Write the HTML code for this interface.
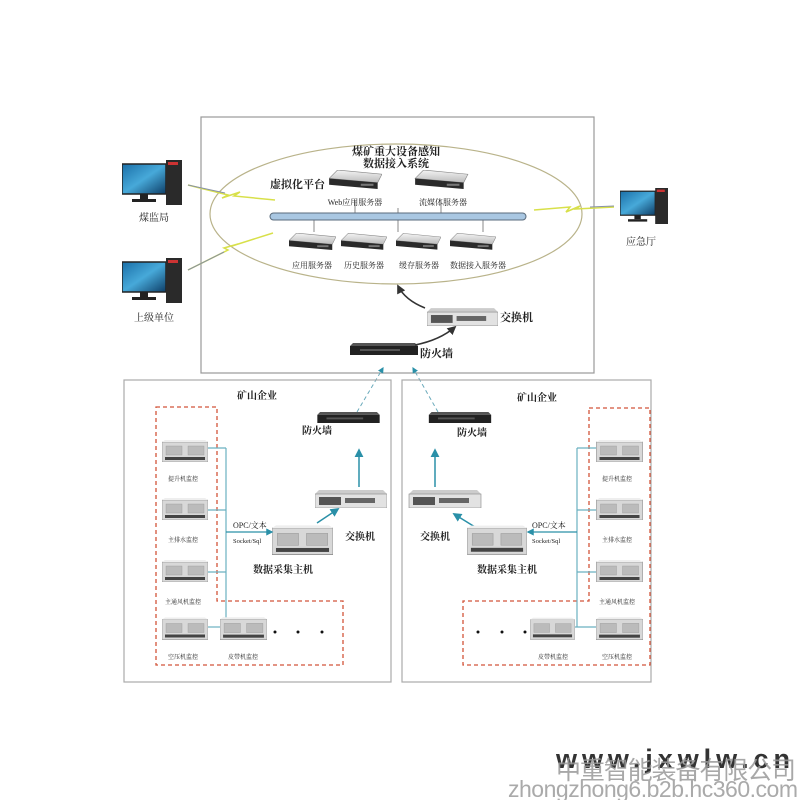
<!DOCTYPE html>
<html><head><meta charset="utf-8"><style>
html,body{margin:0;padding:0;background:#fff;width:800px;height:800px;overflow:hidden}
svg{display:block}
text{font-family:"Liberation Serif","Noto Serif CJK SC",serif;fill:#222}
.b{font-weight:bold}
</style></head><body>
<svg width="800" height="800" viewBox="0 0 800 800">
<defs>
<linearGradient id="srv" x1="0" y1="0" x2="0" y2="1"><stop offset="0" stop-color="#f4f4f4"/><stop offset="1" stop-color="#bbb"/></linearGradient>
<linearGradient id="scr" x1="0" y1="0" x2="1" y2="1"><stop offset="0" stop-color="#1a6fa8"/><stop offset="0.5" stop-color="#47a9d9"/><stop offset="1" stop-color="#0d3d66"/></linearGradient>
<symbol id="rack" viewBox="0 0 50 18"><polygon points="8,0 50,4 46,12 0,8" fill="url(#srv)" stroke="#888" stroke-width="0.6"/><polygon points="0,8 46,12 46,18 0,14" fill="#2a2a2a"/><rect x="30" y="13" width="12" height="2" fill="#777"/></symbol>
<symbol id="ipc" viewBox="0 0 46 22"><rect x="0" y="2" width="46" height="20" fill="#d8d8d8" stroke="#888" stroke-width="0.6"/><polygon points="3,0 43,0 46,2 0,2" fill="#eee"/><rect x="4" y="6" width="16" height="9" fill="#bbb" stroke="#999" stroke-width="0.4"/><rect x="26" y="6" width="16" height="9" fill="#bbb" stroke="#999" stroke-width="0.4"/><rect x="3" y="17" width="40" height="3" fill="#444"/></symbol>
<symbol id="pc" viewBox="0 0 60 45"><rect x="0" y="4" width="44" height="30" fill="url(#scr)" stroke="#222" stroke-width="1.5"/><rect x="18" y="34" width="8" height="5" fill="#222"/><rect x="10" y="39" width="24" height="3" fill="#222"/><rect x="44" y="0" width="16" height="45" fill="#2a2a2a"/><rect x="46" y="2" width="10" height="3" fill="#c33"/></symbol>
<symbol id="sw" viewBox="0 0 72 18"><polygon points="4,0 68,0 72,4 0,4" fill="#ccc"/><rect x="0" y="4" width="72" height="14" fill="#e2e2e2" stroke="#888" stroke-width="0.6"/><rect x="4" y="7" width="22" height="8" fill="#555"/><rect x="30" y="8" width="30" height="5" fill="#666"/></symbol>
<symbol id="fw" viewBox="0 0 68 12"><polygon points="3,0 65,0 68,3 0,3" fill="#555"/><rect x="0" y="3" width="68" height="9" fill="#222"/><rect x="10" y="6" width="40" height="2" fill="#555"/></symbol>
<marker id="ah" viewBox="0 0 10 10" refX="8" refY="5" markerWidth="6" markerHeight="6" orient="auto"><path d="M0,0 L10,5 L0,10 z" fill="#2a90a8"/></marker>
<marker id="ak" viewBox="0 0 10 10" refX="8" refY="5" markerWidth="6" markerHeight="6" orient="auto"><path d="M0,0 L10,5 L0,10 z" fill="#333"/></marker>
</defs>

<rect x="201" y="117" width="393" height="256" fill="none" stroke="#999" stroke-width="1.2"/>
<ellipse cx="396" cy="214" rx="186" ry="70" fill="none" stroke="#b9b38a" stroke-width="1.2"/>
<text x="396" y="155" font-size="11" text-anchor="middle" class="b">煤矿重大设备感知</text>
<text x="396" y="167" font-size="11" text-anchor="middle" class="b">数据接入系统</text>
<text x="270" y="188" font-size="11" class="b">虚拟化平台</text>
<use href="#rack" x="329" y="170" width="53" height="19"/>
<use href="#rack" x="414" y="170" width="55" height="19"/>
<text x="355" y="205" font-size="8" text-anchor="middle">Web应用服务器</text>
<text x="443" y="205" font-size="8" text-anchor="middle">流媒体服务器</text>
<line x1="355" y1="200" x2="355" y2="214" stroke="#888"/>
<line x1="441" y1="200" x2="441" y2="214" stroke="#888"/>
<line x1="314" y1="220" x2="314" y2="232" stroke="#888"/>
<line x1="398" y1="208" x2="398" y2="232" stroke="#888"/>
<line x1="483" y1="220" x2="483" y2="232" stroke="#888"/>
<rect x="270" y="213" width="256" height="7" rx="3.5" fill="#a9c7e2" stroke="#5a6b7c" stroke-width="1"/>
<use href="#rack" x="289" y="233" width="47" height="17"/>
<use href="#rack" x="341" y="233" width="46" height="17"/>
<use href="#rack" x="396" y="233" width="45" height="17"/>
<use href="#rack" x="450" y="233" width="46" height="17"/>
<text x="312" y="268" font-size="8" text-anchor="middle">应用服务器</text>
<text x="364" y="268" font-size="8" text-anchor="middle">历史服务器</text>
<text x="419" y="268" font-size="8" text-anchor="middle">缓存服务器</text>
<text x="478" y="268" font-size="8" text-anchor="middle">数据接入服务器</text>
<use href="#pc" x="122" y="160" width="60" height="45"/>
<text x="154" y="221" font-size="10" text-anchor="middle">煤监局</text>
<use href="#pc" x="122" y="258" width="60" height="45"/>
<text x="154" y="321" font-size="10" text-anchor="middle">上级单位</text>
<use href="#pc" x="620" y="186" width="48" height="40"/>
<text x="641" y="245" font-size="10" text-anchor="middle">应急厅</text>
<polyline points="188,185 228,195 222,198 240,192 234,196 275,200" fill="none" stroke="#d8e04a" stroke-width="1.5"/>
<line x1="188" y1="185" x2="225" y2="193" stroke="#8891a8" stroke-width="1"/>
<polyline points="188,270 228,250 224,248 238,244 232,246 273,233" fill="none" stroke="#d8e04a" stroke-width="1.5"/>
<line x1="188" y1="270" x2="224" y2="252" stroke="#8891a8" stroke-width="1"/>
<polyline points="534,210 570,207 566,212 580,206 576,209 614,207" fill="none" stroke="#d8e04a" stroke-width="1.5"/>
<line x1="590" y1="207" x2="614" y2="206" stroke="#8891a8" stroke-width="1"/>
<use href="#sw" x="427" y="308" width="71" height="18"/>
<text x="500" y="321" font-size="11" class="b">交换机</text>
<use href="#fw" x="350" y="343" width="68" height="12"/>
<text x="420" y="357" font-size="11" class="b">防火墙</text>
<path d="M425,308 Q405,300 398,286" fill="none" stroke="#333" stroke-width="1.5" marker-end="url(#ak)"/>
<path d="M415,345 Q440,340 455,327" fill="none" stroke="#333" stroke-width="1.5" marker-end="url(#ak)"/>
<line x1="357" y1="412" x2="383" y2="368" stroke="#6aaabb" stroke-width="1" stroke-dasharray="4,3" marker-end="url(#ah)"/>
<line x1="438" y1="412" x2="413" y2="368" stroke="#6aaabb" stroke-width="1" stroke-dasharray="4,3" marker-end="url(#ah)"/>

<rect x="124" y="380" width="267" height="302" fill="none" stroke="#aaa" stroke-width="1.2"/>
<text x="257" y="399" font-size="10" text-anchor="middle" class="b">矿山企业</text>
<path d="M156,407 H217 V601 H343 V665 H156 Z" fill="none" stroke="#d2553a" stroke-width="1.3" stroke-dasharray="4,3"/>
<use href="#fw" x="315" y="412" width="67" height="11"/>
<text x="317" y="434" font-size="10" text-anchor="middle" class="b">防火墙</text>
<line x1="359" y1="487" x2="359" y2="450" stroke="#2a90a8" stroke-width="1.5" marker-end="url(#ah)"/>
<use href="#sw" x="315" y="490" width="72" height="18"/>
<text x="360" y="540" font-size="10" text-anchor="middle" class="b">交换机</text>
<line x1="317" y1="523" x2="338" y2="509" stroke="#2a90a8" stroke-width="1.5" marker-end="url(#ah)"/>
<use href="#ipc" x="272" y="525" width="61" height="30"/>
<text x="283" y="573" font-size="10" text-anchor="middle" class="b">数据采集主机</text>
<text x="233" y="528" font-size="8">OPC/文本</text>
<text x="233" y="543" font-size="6.5">Socket/Sql</text>
<g stroke="#6ab0c0" stroke-width="1.2" fill="none">
<line x1="226" y1="448" x2="226" y2="627"/>
<line x1="208" y1="448" x2="226" y2="448"/>
<line x1="208" y1="510" x2="226" y2="510"/>
<line x1="208" y1="572" x2="226" y2="572"/>
<line x1="208" y1="627" x2="222" y2="627"/>
<line x1="226" y1="532" x2="272" y2="532" stroke="#2a90a8" marker-end="url(#ah)"/>
</g>
<use href="#ipc" x="162" y="440" width="46" height="22"/>
<text x="183" y="481" font-size="6" text-anchor="middle">提升机监控</text>
<use href="#ipc" x="162" y="498" width="46" height="22"/>
<text x="183" y="542" font-size="6" text-anchor="middle">主排水监控</text>
<use href="#ipc" x="162" y="560" width="46" height="22"/>
<text x="183" y="604" font-size="6" text-anchor="middle">主通风机监控</text>
<use href="#ipc" x="162" y="617" width="46" height="23"/>
<text x="183" y="659" font-size="6" text-anchor="middle">空压机监控</text>
<use href="#ipc" x="220" y="617" width="47" height="23"/>
<text x="243" y="659" font-size="6" text-anchor="middle">皮带机监控</text>
<circle cx="275" cy="632" r="1.5" fill="#111"/><circle cx="298" cy="632" r="1.5" fill="#111"/><circle cx="322" cy="632" r="1.5" fill="#111"/>

<rect x="402" y="380" width="249" height="302" fill="none" stroke="#aaa" stroke-width="1.2"/>
<text x="537" y="401" font-size="10" text-anchor="middle" class="b">矿山企业</text>
<path d="M589,408 H650 V665 H463 V601 H589 Z" fill="none" stroke="#d2553a" stroke-width="1.3" stroke-dasharray="4,3"/>
<use href="#fw" x="427" y="412" width="66" height="11"/>
<text x="472" y="436" font-size="10" text-anchor="middle" class="b">防火墙</text>
<line x1="435" y1="487" x2="435" y2="450" stroke="#2a90a8" stroke-width="1.5" marker-end="url(#ah)"/>
<use href="#sw" x="408" y="490" width="74" height="18"/>
<text x="435" y="540" font-size="10" text-anchor="middle" class="b">交换机</text>
<line x1="475" y1="527" x2="454" y2="514" stroke="#2a90a8" stroke-width="1.5" marker-end="url(#ah)"/>
<use href="#ipc" x="467" y="525" width="60" height="30"/>
<text x="507" y="573" font-size="10" text-anchor="middle" class="b">数据采集主机</text>
<text x="532" y="528" font-size="8">OPC/文本</text>
<text x="532" y="543" font-size="6.5">Socket/Sql</text>
<g stroke="#6ab0c0" stroke-width="1.2" fill="none">
<line x1="577" y1="448" x2="577" y2="627"/>
<line x1="577" y1="448" x2="596" y2="448"/>
<line x1="577" y1="510" x2="596" y2="510"/>
<line x1="577" y1="572" x2="596" y2="572"/>
<line x1="575" y1="627" x2="596" y2="627"/>
<line x1="577" y1="532" x2="528" y2="532" stroke="#2a90a8" marker-end="url(#ah)"/>
</g>
<use href="#ipc" x="596" y="440" width="47" height="22"/>
<text x="617" y="481" font-size="6" text-anchor="middle">提升机监控</text>
<use href="#ipc" x="596" y="498" width="47" height="22"/>
<text x="617" y="542" font-size="6" text-anchor="middle">主排水监控</text>
<use href="#ipc" x="596" y="560" width="47" height="22"/>
<text x="617" y="604" font-size="6" text-anchor="middle">主通风机监控</text>
<use href="#ipc" x="596" y="617" width="47" height="23"/>
<text x="617" y="659" font-size="6" text-anchor="middle">空压机监控</text>
<use href="#ipc" x="530" y="617" width="45" height="23"/>
<text x="553" y="659" font-size="6" text-anchor="middle">皮带机监控</text>
<circle cx="478" cy="632" r="1.5" fill="#111"/><circle cx="502" cy="632" r="1.5" fill="#111"/><circle cx="525" cy="632" r="1.5" fill="#111"/>

<text x="556" y="768" font-size="27" style="font-family:'Liberation Sans',sans-serif;font-weight:bold;fill:#333" textLength="234" lengthAdjust="spacing">www.jxwlw.cn</text>
<text x="556" y="779" font-size="25" style="font-family:'Liberation Sans','Noto Sans CJK SC',sans-serif;fill:#999" opacity="0.85" textLength="240">中重智能装备有限公司</text>
<text x="508" y="797" font-size="23" style="font-family:'Liberation Sans',sans-serif;fill:#aaa" textLength="290">zhongzhong6.b2b.hc360.com</text>
</svg>
</body></html>
